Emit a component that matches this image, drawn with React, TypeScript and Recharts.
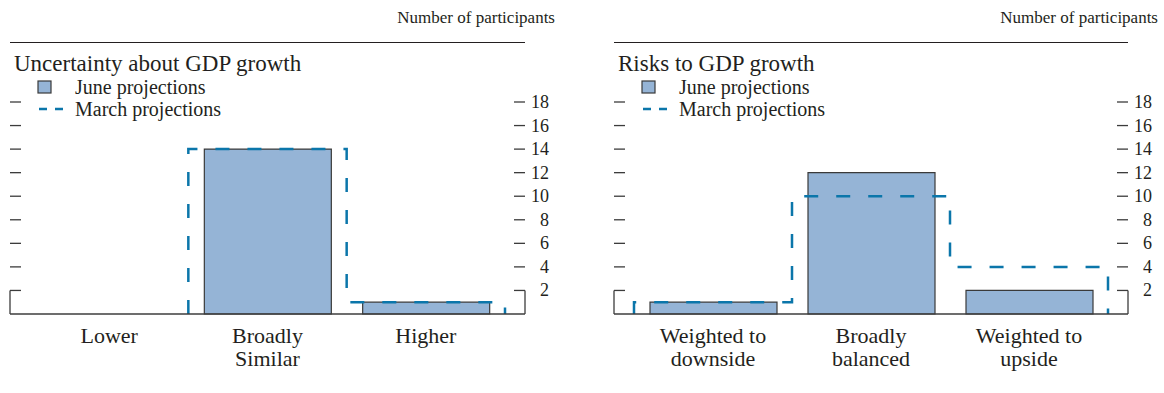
import React from 'react';
import { ComposedChart, Bar, Line, XAxis, YAxis, ReferenceLine } from 'recharts';

// panel 1: uncertainty about GDP growth
const uncertaintyCategories = ['Lower', 'Broadly\nSimilar', 'Higher'];
const uncertaintyJune = [0, 14, 1];
const uncertaintyMarch = [0, 14, 1];

// panel 2: risks to GDP growth
const riskCategories = ['Weighted to\ndownside', 'Broadly\nbalanced', 'Weighted to\nupside'];
const riskJune = [1, 12, 2];
const riskMarch = [1, 10, 4];

const yTicks = [2, 4, 6, 8, 10, 12, 14, 16, 18];

const FONT = '"Liberation Serif", "DejaVu Serif", serif';
const INK = '#231f20';
const AXIS = '#3c3c3c';
const BAR_FILL = '#95b4d6';
const BAR_STROKE = '#3a3a3a';
const MARCH = '#0b76aa';
const PAD_PX = 20; // blank space at each end of the x axis

// outline of the March distribution, drawn as a step line from band edge to band edge
function stepOutline(values: number[]) {
  const n = values.length;
  let s = 0;
  while (s < n - 1 && values[s] === 0) s++;
  const pts = [{ x: s, v: 0 }, { x: s, v: values[s] }];
  for (let i = s + 1; i < n; i++) pts.push({ x: i, v: values[i] });
  pts.push({ x: n, v: values[n - 1] });
  pts.push({ x: n, v: 0 });
  return pts;
}

interface PanelProps {
  left: number;
  width: number;
  rightMargin: number;
  title: string;
  categories: string[];
  june: number[];
  march: number[];
}

const RIGHT_AXIS_W = 30;

const Panel: React.FC<PanelProps> = ({ left, width, rightMargin, title, categories, june, march }) => {
  const n = categories.length;
  const barData = categories.map((c, i) => ({ name: c, june: june[i] }));
  const outline = stepOutline(march);
  const plotW = width - rightMargin - RIGHT_AXIS_W - 10;
  const pad = PAD_PX / ((plotW - 2 * PAD_PX) / n);
  const xMin = -pad;
  const xMax = n + pad;

  const categoryTick = (props: any) => {
    const { x, y, payload } = props;
    const lines = String(payload.value).split('\n');
    return (
      <text x={x} y={y} textAnchor="middle" fontFamily={FONT} fontSize={22} fill={INK}>
        {lines.map((l, i) => (
          <tspan key={i} x={x} dy={i === 0 ? 29 : 23}>{l}</tspan>
        ))}
      </text>
    );
  };

  const leftTick = (props: any) => {
    const { x, y } = props;
    return <line x1={x} x2={x + 11} y1={y} y2={y} stroke={AXIS} strokeWidth={1.3} />;
  };

  const rightTick = (props: any) => {
    const { x, y, payload } = props;
    return (
      <g>
        <line x1={x - 11} x2={x} y1={y} y2={y} stroke={AXIS} strokeWidth={1.3} />
        <text x={x + 24} y={y} dy={6} textAnchor="end" fontFamily={FONT} fontSize={18} fill={INK}>
          {payload.value}
        </text>
      </g>
    );
  };

  return (
    <div style={{ position: 'absolute', left, top: 0, width, height: 393 }}>
      <div
        style={{
          position: 'absolute', left: 10 + plotW + 30, top: 7, lineHeight: '22px',
          transform: 'translateX(-100%)', fontSize: 17, color: INK, whiteSpace: 'nowrap',
        }}
      >
        Number of participants
      </div>
      <div
        style={{
          position: 'absolute', left: 10, top: 42, width: plotW, height: 0,
          borderTop: `1.3px solid ${INK}`,
        }}
      />
      <div
        style={{
          position: 'absolute', left: 14, top: 50, lineHeight: '28px',
          fontSize: 23, color: INK, whiteSpace: 'nowrap',
        }}
      >
        {title}
      </div>
      <div style={{ position: 'absolute', left: 37, top: 76, fontSize: 20, color: INK, whiteSpace: 'nowrap' }}>
        <div style={{ display: 'flex', alignItems: 'center', height: 22 }}>
          <svg width={34} height={22}>
            <rect x={1} y={5} width={13} height={12} fill={BAR_FILL} stroke={BAR_STROKE} strokeWidth={1.2} />
          </svg>
          <span style={{ marginLeft: 4 }}>June projections</span>
        </div>
        <div style={{ display: 'flex', alignItems: 'center', height: 22 }}>
          <svg width={34} height={22}>
            <line x1={2} x2={26} y1={11} y2={11} stroke={MARCH} strokeWidth={2.5} strokeDasharray="8 8" />
          </svg>
          <span style={{ marginLeft: 4 }}>March projections</span>
        </div>
      </div>
      <div style={{ position: 'absolute', left: 0, top: 0 }}>
        <ComposedChart
          width={width}
          height={393}
          data={barData}
          margin={{ top: 102, right: rightMargin, bottom: 19, left: 9 }}
        >
          <XAxis
            xAxisId="cat"
            dataKey="name"
            type="category"
            padding={{ left: PAD_PX, right: PAD_PX }}
            interval={0}
            tickLine={false}
            tickSize={0}
            tickMargin={0}
            height={60}
            axisLine={{ stroke: AXIS, strokeWidth: 1.3 }}
            tick={categoryTick}
          />
          <XAxis
            xAxisId="num"
            dataKey="x"
            type="number"
            domain={[xMin, xMax]}
            allowDataOverflow
            hide
          />
          <YAxis
            yAxisId="l"
            orientation="left"
            width={1}
            domain={[0, 18]}
            ticks={yTicks}
            interval={0}
            axisLine={false}
            tickLine={false}
            tickSize={0}
            tickMargin={0}
            tick={leftTick}
          />
          <YAxis
            yAxisId="r"
            orientation="right"
            width={RIGHT_AXIS_W}
            domain={[0, 18]}
            ticks={yTicks}
            interval={0}
            axisLine={false}
            tickLine={false}
            tickSize={0}
            tickMargin={0}
            tick={rightTick}
          />
          <ReferenceLine
            xAxisId="num"
            yAxisId="l"
            segment={[{ x: xMin, y: 0 }, { x: xMin, y: 2 }]}
            stroke={AXIS}
            strokeWidth={1.3}
            ifOverflow="visible"
          />
          <ReferenceLine
            xAxisId="num"
            yAxisId="l"
            segment={[{ x: xMax, y: 0 }, { x: xMax, y: 2 }]}
            stroke={AXIS}
            strokeWidth={1.3}
            ifOverflow="visible"
          />
          <Bar
            xAxisId="cat"
            yAxisId="l"
            dataKey="june"
            barSize={127}
            fill={BAR_FILL}
            stroke={BAR_STROKE}
            strokeWidth={1.2}
            isAnimationActive={false}
          />
          <Line
            xAxisId="num"
            yAxisId="r"
            data={outline}
            dataKey="v"
            type="stepAfter"
            stroke={MARCH}
            strokeWidth={2.5}
            strokeDasharray="14 18"
            dot={false}
            activeDot={false}
            isAnimationActive={false}
          />
        </ComposedChart>
      </div>
    </div>
  );
};

export default function App() {
  return (
    <div
      style={{
        position: 'absolute', left: 0, top: 0, width: 1164, height: 393,
        background: '#fff', fontFamily: FONT, overflow: 'hidden',
      }}
    >
      <Panel
        left={0}
        width={570}
        rightMargin={15}
        title="Uncertainty about GDP growth"
        categories={uncertaintyCategories}
        june={uncertaintyJune}
        march={uncertaintyMarch}
      />
      <Panel
        left={604}
        width={560}
        rightMargin={6}
        title="Risks to GDP growth"
        categories={riskCategories}
        june={riskJune}
        march={riskMarch}
      />
    </div>
  );
}
